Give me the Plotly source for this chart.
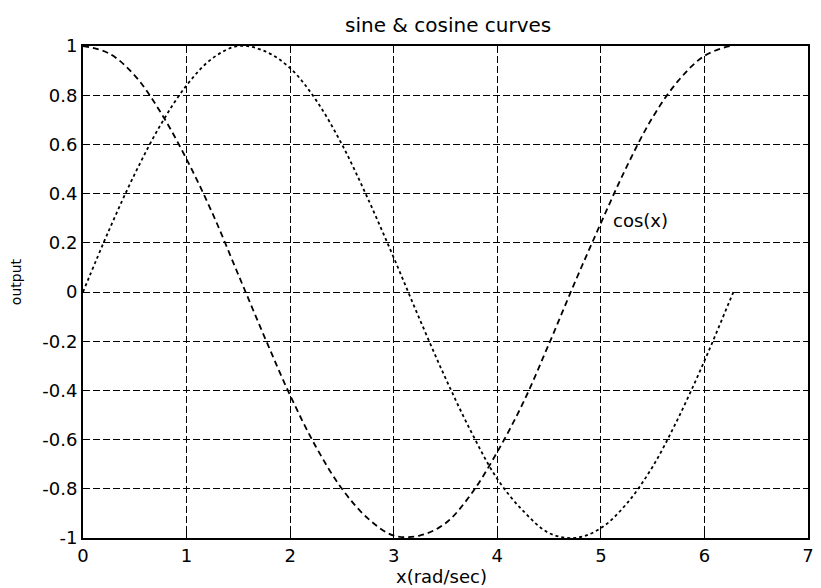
import plotly.graph_objects as go

x_vals = [0, 0.25, 0.5, 0.75, 1, 1.25, 1.5, 1.75, 2, 2.25, 2.5, 2.75, 3, 3.25,
          3.5, 3.75, 4, 4.25, 4.5, 4.75, 5, 5.25, 5.5, 5.75, 6, 6.25, 6.28]
sine_vals = [0, 0.25, 0.48, 0.68, 0.84, 0.95, 1.0, 0.98, 0.91, 0.78, 0.6, 0.38, 0.14, -0.11,
             -0.35, -0.57, -0.76, -0.89, -0.98, -1.0, -0.96, -0.86, -0.71, -0.51, -0.28, -0.03, 0]
cosine_vals = [1, 0.97, 0.88, 0.73, 0.54, 0.32, 0.07, -0.18, -0.42, -0.63, -0.8, -0.92, -0.99, -0.99,
               -0.94, -0.82, -0.65, -0.45, -0.21, 0.04, 0.28, 0.51, 0.71, 0.86, 0.96, 1.0, 1.0]

x_ticks = [0, 1, 2, 3, 4, 5, 6, 7]
y_ticks = [-1, -0.8, -0.6, -0.4, -0.2, 0, 0.2, 0.4, 0.6, 0.8, 1]
y_tick_text = ["-1", "-0.8", "-0.6", "-0.4", "-0.2", "0", "0.2", "0.4", "0.6", "0.8", "1"]

title_text = "sine & cosine curves"
x_label = "x(rad/sec)"
y_label = "output"
cos_label = "cos(x)"
cos_label_pos = (5.1, 0.29)

FONT = "DejaVu Sans, Liberation Sans, Arial, sans-serif"

fig = go.Figure()
fig.add_trace(go.Scatter(x=x_vals, y=sine_vals, mode="lines",
                         line=dict(color="black", width=1.8, dash="dot", shape="spline"), showlegend=False))
fig.add_trace(go.Scatter(x=x_vals, y=cosine_vals, mode="lines",
                         line=dict(color="black", width=1.8, dash="6px,4px", shape="spline"), showlegend=False))

axis_common = dict(showline=True, linecolor="black", linewidth=2, mirror=True,
                   showgrid=True, gridcolor="black", gridwidth=1.4, griddash="7px,3px",
                   zeroline=False, ticks="inside", ticklen=5, tickcolor="black",
                   tickfont=dict(family=FONT, size=18, color="black"))

fig.update_xaxes(range=[0, 7], tickmode="array", tickvals=x_ticks,
                 ticktext=[str(v) for v in x_ticks], ticklabeloverflow="allow", **axis_common)
fig.update_yaxes(range=[-1, 1], tickmode="array", tickvals=y_ticks, ticktext=y_tick_text,
                 ticklabelstandoff=0, **axis_common)

fig.add_annotation(x=cos_label_pos[0], y=cos_label_pos[1], text=cos_label, showarrow=False,
                   xanchor="left", yanchor="middle", font=dict(family=FONT, size=18, color="black"))
fig.add_annotation(x=0.503, y=1, xref="paper", yref="paper", yshift=21, text=title_text, showarrow=False,
                   xanchor="center", yanchor="middle", font=dict(family=FONT, size=20, color="black"))
fig.add_annotation(x=0.495, y=0, xref="paper", yref="paper", yshift=-38, text=x_label, showarrow=False,
                   xanchor="center", yanchor="middle", font=dict(family=FONT, size=18, color="black"))
fig.add_annotation(x=0, y=0.52, xref="paper", yref="paper", xshift=-67, text=y_label, showarrow=False,
                   textangle=-90, xanchor="center", yanchor="middle", font=dict(family=FONT, size=14, color="black"))

# page body adds an 8px offset, so the figure is 8px smaller on each axis
fig.update_layout(width=813, height=580, margin=dict(l=75, r=7, t=38, b=50),
                  plot_bgcolor="white", paper_bgcolor="white", showlegend=False)

fig.write_html("out.html")
